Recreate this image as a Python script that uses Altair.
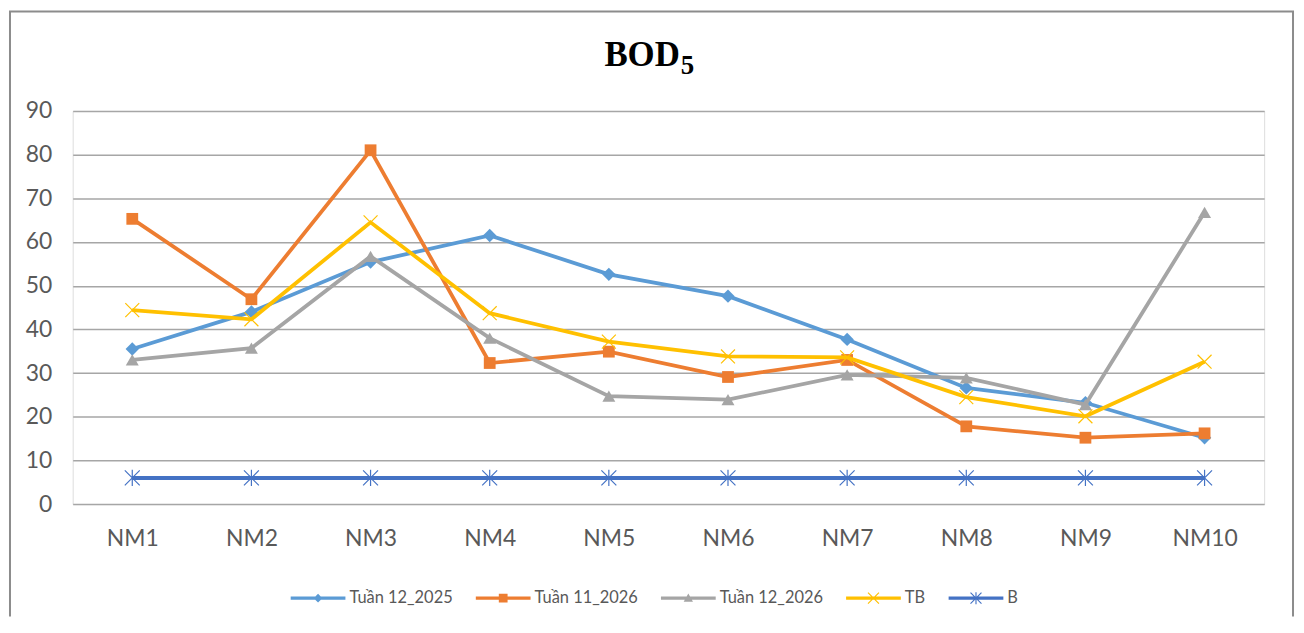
import altair as alt
import pandas as pd

sites = ["NM1", "NM2", "NM3", "NM4", "NM5", "NM6", "NM7", "NM8", "NM9", "NM10"]
series_names = ["Tuần 12_2025", "Tuần 11_2026", "Tuần 12_2026", "TB", "B"]
tuan12_2025 = [35.5, 44.0, 55.4, 61.5, 52.6, 47.6, 37.7, 26.6, 23.2, 15.2]
tuan11_2026 = [65.3, 46.9, 81.0, 32.3, 34.9, 29.1, 33.0, 17.8, 15.2, 16.2]
tuan12_2026 = [33.0, 35.7, 56.7, 38.0, 24.7, 23.9, 29.6, 28.9, 22.8, 66.8]
tb = [44.4, 42.3, 64.5, 43.7, 37.2, 33.8, 33.6, 24.5, 20.1, 32.6]
b = [6, 6, 6, 6, 6, 6, 6, 6, 6, 6]
y_ticks = [0, 10, 20, 30, 40, 50, 60, 70, 80, 90]
title_main = "BOD"
title_sub = "5"

all_values = [tuan12_2025, tuan11_2026, tuan12_2026, tb, b]
rows = []
for name, vals in zip(series_names, all_values):
    for s, v in zip(sites, vals):
        rows.append({"site": s, "series": name, "value": v})
df = pd.DataFrame(rows)

colors = ["#5B9BD5", "#ED7D31", "#A5A5A5", "#FFC000", "#4472C4"]

X_PATH = "M-1,-1L1,1M-1,1L1,-1"
STAR_PATH = "M-1,-1L1,1M-1,1L1,-1M0,-1.1L0,1.1"
marker_shapes = ["diamond", "square", "triangle-up", X_PATH, STAR_PATH]
marker_sizes = [180, 140, 170, 196, 225]
marker_filled = [True, True, True, False, False]
line_widths = [3.8, 3.8, 3.8, 3.8, 4]

LINE = "M-1,-0.058H1V0.058H-1Z"
def xcross(a, d):
    return (f"M{-a+d},{-a-d}L{a+d},{a-d}L{a-d},{a+d}L{-a-d},{-a+d}Z"
            f"M{a+d},{-a+d}L{-a+d},{a+d}L{-a-d},{a-d}L{a-d},{-a-d}Z")
leg_diamond = LINE + "M0,-0.16L0.16,0L0,0.16L-0.16,0Z"
leg_square = LINE + "M-0.16,-0.16H0.16V0.16H-0.16Z"
leg_tri = LINE + "M0,-0.17L0.17,0.13H-0.17Z"
leg_x = LINE + xcross(0.2, 0.015)
leg_star = LINE + xcross(0.2, 0.015) + "M-0.021,-0.22H0.021V0.22H-0.021Z"
legend_shapes = [leg_diamond, leg_square, leg_tri, leg_x, leg_star]

x_enc = alt.X("site:N", sort=sites, scale=alt.Scale(type="point", padding=0.5),
              axis=alt.Axis(title=None, labelAngle=0, domain=False, ticks=False, grid=False,
                            labelFont="Lato", labelFontSize=23, labelColor="#595959",
                            labelPadding=24))
y_enc = alt.Y("value:Q", scale=alt.Scale(domain=[0, 90], nice=False, zero=True),
              axis=alt.Axis(title=None, values=y_ticks, domain=False, ticks=False, grid=True,
                            gridColor="#A6A6A6", gridWidth=1.5,
                            labelFont="Lato", labelFontSize=23, labelColor="#595959",
                            labelPadding=21))

base = alt.Chart(df)
one = pd.DataFrame({"main": [title_main], "sub": [title_sub]})
layers = []

frame_style = dict(color="#8C8C8C", strokeWidth=2)
frame_left = alt.Chart(one).mark_rule(**frame_style).encode(
    x=alt.value(-63), y=alt.value(-100), y2=alt.value(508))
frame_top = alt.Chart(one).mark_rule(**frame_style).encode(
    x=alt.value(-64), x2=alt.value(1227), y=alt.value(-100))
frame_right = alt.Chart(one).mark_rule(**frame_style).encode(
    x=alt.value(1226), y=alt.value(-100), y2=alt.value(508))
layers += [frame_left, frame_top, frame_right]

t_main = alt.Chart(one).mark_text(
    font="Liberation Serif", fontSize=35, fontWeight="bold", color="black",
    align="right", baseline="alphabetic"
).encode(text="main:N", x=alt.value(610), y=alt.value(-45))
t_sub = alt.Chart(one).mark_text(
    font="Liberation Serif", fontSize=27, fontWeight="bold", color="black",
    align="left", baseline="alphabetic"
).encode(text="sub:N", x=alt.value(611), y=alt.value(-37))
layers += [t_main, t_sub]

for i, name in enumerate(series_names):
    sub = base.transform_filter(alt.datum.series == name)
    line = sub.mark_line(color=colors[i], strokeWidth=line_widths[i]).encode(x=x_enc, y=y_enc)
    if marker_filled[i]:
        pt = sub.mark_point(shape=marker_shapes[i], size=marker_sizes[i], filled=True,
                            color=colors[i], opacity=1).encode(x=x_enc, y=y_enc)
    else:
        pt = sub.mark_point(shape=marker_shapes[i], size=marker_sizes[i], filled=False,
                            color=colors[i], strokeWidth=1.2, opacity=1).encode(x=x_enc, y=y_enc)
    layers += [line, pt]

legend_layer = base.mark_point(filled=True, size=0, opacity=1).encode(
    x=x_enc, y=y_enc,
    color=alt.Color("series:N", sort=series_names,
                    scale=alt.Scale(domain=series_names, range=colors),
                    legend=alt.Legend(title=None, orient="none", direction="horizontal",
                                      legendX=219, legendY=462, symbolSize=3025,
                                      symbolStrokeWidth=0, symbolOpacity=1, labelFont="Lato",
                                      labelFontSize=16.5, labelColor="#595959",
                                      labelOffset=4, columnPadding=23)),
    shape=alt.Shape("series:N", sort=series_names,
                    scale=alt.Scale(domain=series_names, range=legend_shapes)),
)
layers.append(legend_layer)

chart = alt.layer(*layers).properties(
    width=1197, height=395,
    autosize=alt.AutoSizeParams(type="none"),
    padding={"left": 65, "top": 102, "right": 32, "bottom": 116},
).configure_view(stroke=None).configure(background="white")

chart.save("out.html", embed_options={"renderer": "svg", "actions": False})
